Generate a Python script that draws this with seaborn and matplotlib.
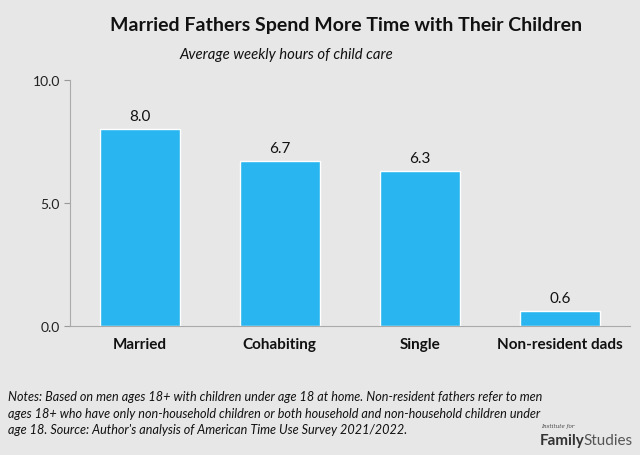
import matplotlib
matplotlib.use("Agg")
import matplotlib.pyplot as plt
import seaborn as sns
import pandas as pd

categories = ["Married", "Cohabiting", "Single", "Non-resident dads"]
hours = [8.0, 6.7, 6.3, 0.6]
yticks = [0.0, 5.0, 10.0]

sns.set_theme(style="white")
plt.rcParams['font.family'] = ['Lato', 'DejaVu Sans']

bg = "#E7E7E7"
fig = plt.figure(figsize=(6.4, 4.56), dpi=100, facecolor=bg)
ax = fig.add_axes([0.109, 0.283, 0.875, 0.539])
ax.set_facecolor(bg)

df = pd.DataFrame({"cat": categories, "hours": hours})
sns.barplot(data=df, x="cat", y="hours", color="#29B6F0", saturation=1, width=0.57, ax=ax)

ax.set_ylim(0, 10)
ax.set_xlim(-0.5, 3.5)
ax.set_yticks(yticks)
ax.set_yticklabels([f"{v:.1f}" for v in yticks], fontsize=10, color="#222222")
ax.set_xlabel("")
ax.set_ylabel("")
ax.tick_params(axis="y", length=4, width=0.8, color="#999999", left=True, pad=3)
ax.tick_params(axis="x", length=0, pad=8)
for lbl in ax.get_xticklabels():
    lbl.set_fontweight("bold")
    lbl.set_fontsize(11)
    lbl.set_color("#111111")
for s in ["top", "right"]:
    ax.spines[s].set_visible(False)
for s in ["left", "bottom"]:
    ax.spines[s].set_color("#AAAAAA")
    ax.spines[s].set_linewidth(0.8)

for i, v in enumerate(hours):
    ax.text(i, v + 0.25, f"{v:.1f}", ha="center", va="bottom", fontsize=11, color="#111111")

fig.text(0.54, 0.943, "Married Fathers Spend More Time with Their Children",
         ha="center", va="center", fontsize=14, fontweight="bold", color="#111111")
fig.text(0.447, 0.88, "Average weekly hours of child care",
         ha="center", va="center", fontsize=10.7, style="italic", color="#111111")

notes = ("Notes: Based on men ages 18+ with children under age 18 at home. Non-resident fathers refer to men\n"
         "ages 18+ who have only non-household children or both household and non-household children under\n"
         "age 18. Source: Author's analysis of American Time Use Survey 2021/2022.")
fig.text(0.012, 0.093, notes, ha="left", va="center", fontsize=9.1, style="italic",
         color="#111111", linespacing=1.42)

fig.text(0.845, 0.065, "Institute for", ha="left", va="center", fontsize=4, style="italic",
         family="DejaVu Serif", color="#444444")
fig.text(0.843, 0.033, "Family", ha="left", va="center", fontsize=11, fontweight="bold", color="#333333")
fig.text(0.912, 0.033, "Studies", ha="left", va="center", fontsize=11, fontweight="normal", color="#555555")

fig.savefig("out.png", dpi=100, facecolor=bg)
